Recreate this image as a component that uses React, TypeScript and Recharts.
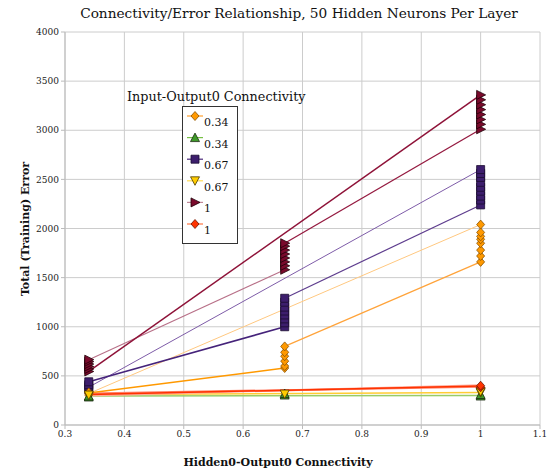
import React from 'react';
import { ScatterChart, Scatter, XAxis, YAxis, CartesianGrid } from 'recharts';

// ---- axis ticks ----
const xTicks = [0.3, 0.4, 0.5, 0.6, 0.7, 0.8, 0.9, 1, 1.1];
const yTicks = [0, 500, 1000, 1500, 2000, 2500, 3000, 3500, 4000];

// ---- x levels (Hidden0-Output0 connectivity) ----
const xLevels = [0.34, 0.67, 1];

// ---- series values per x level ----
const orange034 = [305, 318, 332];
const orange067 = [580, 600, 650, 700, 740, 800];
const orange100 = [1660, 1720, 1780, 1850, 1890, 1920, 1960, 2040];

const green034 = [285, 295];
const green067 = [305, 320];
const green100 = [295, 310];

const purple034 = [360, 390, 410, 440];
const purple067 = [1000, 1040, 1080, 1120, 1160, 1200, 1250, 1290];
const purple100 = [2240, 2290, 2330, 2380, 2420, 2470, 2520, 2560, 2600];

const yellow034 = [305];
const yellow067 = [315];
const yellow100 = [330, 340];

const darkred034 = [545, 570, 595, 620, 645, 665];
const darkred067 = [1580, 1620, 1660, 1700, 1740, 1780, 1820, 1850];
const darkred100 = [3010, 3060, 3110, 3160, 3210, 3260, 3310, 3360];

const red034: number[] = [];
const red067: number[] = [];
const red100 = [385, 400];

// ---- connecting lines (start value, end value) ----
const orangeLineA = [{ x: 0.34, y: 325 }, { x: 0.67, y: 580 }];
const orangeLineB = [{ x: 0.67, y: 800 }, { x: 1, y: 1660 }];
const orangeLineC = [{ x: 0.34, y: 320 }, { x: 1, y: 2040 }];

const purpleLineA = [{ x: 0.34, y: 440 }, { x: 0.67, y: 1000 }];
const purpleLineB = [{ x: 0.67, y: 1290 }, { x: 1, y: 2240 }];
const purpleLineC = [{ x: 0.34, y: 385 }, { x: 1, y: 2600 }];

const darkredLineA = [{ x: 0.34, y: 545 }, { x: 1, y: 3360 }];
const darkredLineB = [{ x: 0.67, y: 1850 }, { x: 1, y: 3010 }];
const darkredLineC = [{ x: 0.34, y: 665 }, { x: 0.67, y: 1580 }];

const greenLine = [{ x: 0.34, y: 295 }, { x: 1, y: 300 }];
const yellowLine = [{ x: 0.34, y: 310 }, { x: 1, y: 330 }];
const redLineA = [{ x: 0.34, y: 300 }, { x: 1, y: 405 }];
const redLineB = [{ x: 0.34, y: 320 }, { x: 1, y: 390 }];
const redLineC = [{ x: 0.34, y: 310 }, { x: 1, y: 398 }];

const legendLabels = ['0.34', '0.34', '0.67', '0.67', '1', '1'];

const pts = (groups: number[][]) =>
  groups.flatMap((ys, i) => ys.map((y) => ({ x: xLevels[i], y })));

const orangeData = pts([orange034, orange067, orange100]);
const greenData = pts([green034, green067, green100]);
const purpleData = pts([purple034, purple067, purple100]);
const yellowData = pts([yellow034, yellow067, yellow100]);
const darkredData = pts([darkred034, darkred067, darkred100]);
const redData = pts([red034, red067, red100]);

type Kind = 'diamond' | 'triUp' | 'square' | 'triDown' | 'triRight';

function markerPath(kind: Kind, cx: number, cy: number): string {
  switch (kind) {
    case 'diamond':
      return `M${cx},${cy - 4.5}L${cx + 4},${cy}L${cx},${cy + 4.5}L${cx - 4},${cy}Z`;
    case 'triUp':
      return `M${cx},${cy - 4.5}L${cx + 4.5},${cy + 4}L${cx - 4.5},${cy + 4}Z`;
    case 'triDown':
      return `M${cx},${cy + 4.5}L${cx + 4.5},${cy - 4}L${cx - 4.5},${cy - 4}Z`;
    case 'triRight':
      return `M${cx + 5},${cy}L${cx - 4},${cy - 4.5}L${cx - 4},${cy + 4.5}Z`;
    default:
      return `M${cx - 4},${cy - 4}h8v8h-8Z`;
  }
}

const makeShape = (kind: Kind, fill: string, stroke: string) => (props: any) => {
  const { cx, cy } = props;
  if (cx == null || cy == null) return <g />;
  return <path d={markerPath(kind, cx, cy)} fill={fill} stroke={stroke} strokeWidth={0.8} />;
};

const noShape = () => <g />;

const FONT = "'DejaVu Serif', 'Liberation Serif', serif";

const legendItems: { kind: Kind; fill: string; stroke: string; line: string }[] = [
  { kind: 'diamond', fill: '#FF9900', stroke: '#8A5200', line: '#FFA030' },
  { kind: 'triUp', fill: '#3F9A2A', stroke: '#1A2A10', line: '#77C044' },
  { kind: 'square', fill: '#3D1E6D', stroke: '#1A0C30', line: '#4B2A7B' },
  { kind: 'triDown', fill: '#FFCC00', stroke: '#4A3A00', line: '#FFDD55' },
  { kind: 'triRight', fill: '#7A0A2C', stroke: '#200008', line: '#C08898' },
  { kind: 'diamond', fill: '#FF3300', stroke: '#6A1500', line: '#FF7744' },
];

export default function App() {
  const lines: { data: { x: number; y: number }[]; stroke: string; w: number }[] = [
    { data: greenLine, stroke: '#99CC66', w: 1.5 },
    { data: yellowLine, stroke: '#FFCC33', w: 1.5 },
    { data: redLineA, stroke: '#FFAA99', w: 2 },
    { data: redLineB, stroke: '#FF7F66', w: 2 },
    { data: redLineC, stroke: '#FF3300', w: 1.5 },
    { data: orangeLineC, stroke: '#FFC880', w: 1 },
    { data: orangeLineB, stroke: '#FFA33A', w: 1.2 },
    { data: orangeLineA, stroke: '#FF9900', w: 1.6 },
    { data: purpleLineC, stroke: '#7E5CA8', w: 1 },
    { data: purpleLineB, stroke: '#5E3D8E', w: 1.2 },
    { data: purpleLineA, stroke: '#45237A', w: 1.6 },
    { data: darkredLineC, stroke: '#B87088', w: 1.1 },
    { data: darkredLineB, stroke: '#951A40', w: 1.3 },
    { data: darkredLineA, stroke: '#8E1238', w: 1.5 },
  ];

  return (
    <div style={{ position: 'absolute', left: 0, top: 0, width: 549, height: 472, background: '#fff' }}>
      <ScatterChart width={549} height={472} margin={{ top: 32, right: 9, left: 0, bottom: 0 }}>
        <CartesianGrid stroke="#CCCCCC" strokeWidth={1} />
        <XAxis
          type="number"
          dataKey="x"
          domain={[0.3, 1.1]}
          ticks={xTicks}
          height={47}
          tickSize={4}
          tick={{ fontFamily: FONT, fontSize: 9, fill: '#222' }}
          stroke="#BBBBBB"
          allowDataOverflow
        />
        <YAxis
          type="number"
          dataKey="y"
          domain={[0, 4000]}
          ticks={yTicks}
          width={65}
          tickSize={4}
          tickMargin={2}
          tick={{ fontFamily: FONT, fontSize: 9, fill: '#222' }}
          stroke="#BBBBBB"
          allowDataOverflow
        />
        {lines.map((l, i) => (
          <Scatter
            key={'l' + i}
            data={l.data}
            shape={noShape}
            line={{ stroke: l.stroke, strokeWidth: l.w }}
            isAnimationActive={false}
          />
        ))}
        <Scatter data={purpleData} shape={makeShape('square', '#3D1E6D', '#1A0C30')} isAnimationActive={false} />
        <Scatter data={darkredData} shape={makeShape('triRight', '#7A0A2C', '#200008')} isAnimationActive={false} />
        <Scatter data={orangeData} shape={makeShape('diamond', '#FF9900', '#8A5200')} isAnimationActive={false} />
        <Scatter data={greenData} shape={makeShape('triUp', '#3F9A2A', '#1A2A10')} isAnimationActive={false} />
        <Scatter data={yellowData} shape={makeShape('triDown', '#FFCC00', '#4A3A00')} isAnimationActive={false} />
        <Scatter data={redData} shape={makeShape('diamond', '#FF3300', '#6A1500')} isAnimationActive={false} />
      </ScatterChart>
      <svg
        width={549}
        height={472}
        style={{ position: 'absolute', left: 0, top: 0, pointerEvents: 'none' }}
      >
        <text x={299} y={18} textAnchor="middle" fontFamily={FONT} fontSize={13.7} fill="#111">
          Connectivity/Error Relationship, 50 Hidden Neurons Per Layer
        </text>
        <text x={278} y={466} textAnchor="middle" fontFamily={FONT} fontSize={11} fontWeight="bold" fill="#111">
          Hidden0-Output0 Connectivity
        </text>
        <text
          x={0}
          y={0}
          transform="translate(29,229) rotate(-90)"
          textAnchor="middle"
          fontFamily={FONT}
          fontSize={11}
          fontWeight="bold"
          fill="#111"
        >
          Total (Training) Error
        </text>
        <text x={127} y={101} fontFamily={FONT} fontSize={12.8} fill="#111">
          Input-Output0 Connectivity
        </text>
        <rect x={182.5} y={106.5} width={55} height={137} fill="#fff" stroke="#333" strokeWidth={1} />
        {legendItems.map((it, i) => {
          const my = 116 + i * 21.6;
          return (
            <g key={i}>
              <line x1={187} x2={203} y1={my} y2={my} stroke={it.line} strokeWidth={1.2} />
              <path d={markerPath(it.kind, 195, my)} fill={it.fill} stroke={it.stroke} strokeWidth={0.8} />
              <text x={204} y={my + 10} fontFamily={FONT} fontSize={11} fill="#111">
                {legendLabels[i]}
              </text>
            </g>
          );
        })}
      </svg>
    </div>
  );
}
